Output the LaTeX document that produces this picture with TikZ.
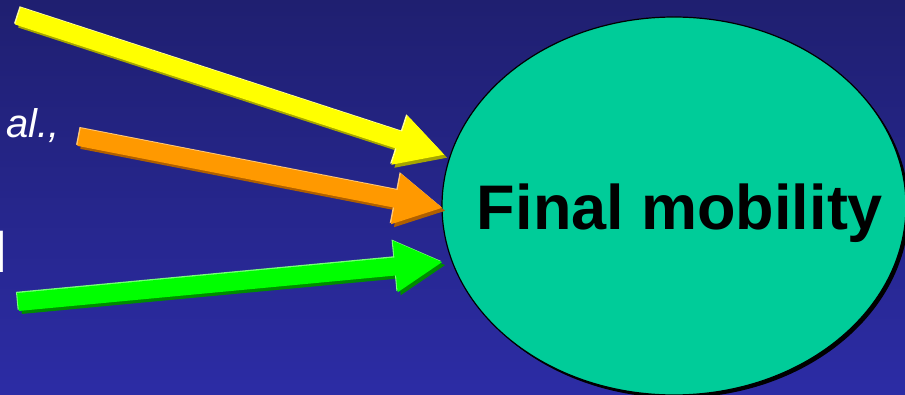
\documentclass[tikz,border=0pt]{standalone}
\usepackage{fontspec}
\setmainfont{Liberation Sans}
\usetikzlibrary{arrows.meta,shapes.geometric}
\definecolor{bgtop}{RGB}{31,31,112}
\definecolor{bgbot}{RGB}{44,44,165}
\definecolor{mint}{RGB}{0,204,153}
\definecolor{ymain}{RGB}{255,255,0}
\definecolor{yshad}{RGB}{165,165,0}
\definecolor{ylight}{RGB}{255,255,160}
\definecolor{omain}{RGB}{255,153,0}
\definecolor{oshad}{RGB}{175,95,0}
\definecolor{olight}{RGB}{255,200,120}
\definecolor{gmain}{RGB}{0,255,0}
\definecolor{gshad}{RGB}{0,140,0}
\definecolor{glight}{RGB}{120,255,120}
\begin{document}
\begin{tikzpicture}[x=1pt,y=-1pt,
  fat/.style={line width=18pt,-{Triangle[length=48pt,width=48pt]}},
  shadowlayer/.style={transform canvas={xshift=3pt,yshift=-3pt}},
  lightlayer/.style={transform canvas={xshift=-1.2pt,yshift=1.2pt}},
  txt/.style={inner sep=0pt,text=white,anchor=base west}]
\useasboundingbox (0,0) rectangle (905,395);
\clip (0,0) rectangle (905,395);
\shade[top color=bgtop,bottom color=bgbot] (0,0) rectangle (905,395);

% partial texts at the left
\node[txt,font=\fontsize{40}{44}\selectfont\itshape] (al) at (6,138) {al.,};
\node[txt,font=\fontsize{57}{62}\selectfont] (cut) at (-5.8,273) {l};

% ellipse
\node[ellipse,inner sep=0pt,minimum width=464pt,minimum height=378pt,fill=black] (ellshadow) at (677,209) {};
\node[ellipse,inner sep=0pt,minimum width=464pt,minimum height=378pt,fill=mint,draw=black,line width=1.2pt] (ell) at (674,206) {};
\node[inner sep=0pt,anchor=base,font=\fontsize{63}{70}\selectfont\bfseries] (label) at (680,230) {Final mobility};

% arrows
\coordinate (ytail) at (18,16);  \coordinate (ytip) at (445,155);
\coordinate (otail) at (79,137); \coordinate (otip) at (443,208);
\coordinate (gtail) at (18,302); \coordinate (gtip) at (443,262);

\draw[fat,draw=yshad,shadowlayer] (ytail) -- (ytip);
\draw[fat,draw=ylight,lightlayer] (ytail) -- (ytip);
\draw[fat,draw=ymain] (ytail) -- (ytip);

\draw[fat,draw=oshad,shadowlayer] (otail) -- (otip);
\draw[fat,draw=olight,lightlayer] (otail) -- (otip);
\draw[fat,draw=omain] (otail) -- (otip);

\draw[fat,draw=gshad,shadowlayer] (gtail) -- (gtip);
\draw[fat,draw=glight,lightlayer] (gtail) -- (gtip);
\draw[fat,draw=gmain] (gtail) -- (gtip);
\end{tikzpicture}
\end{document}
